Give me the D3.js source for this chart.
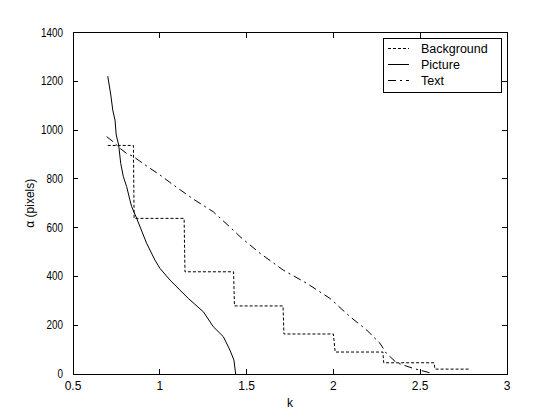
<!DOCTYPE html>
<html>
<head>
<meta charset="utf-8">
<script src="https://cdn.jsdelivr.net/npm/d3@7"></script>
<style>
body { margin: 0; background: #fff; }
text { font-family: "Liberation Sans", Arial, sans-serif; fill: #000; }
</style>
</head>
<body>
<script>
// values
var xTicks = [0.5, 1, 1.5, 2, 2.5, 3];
var yTicks = [0, 200, 400, 600, 800, 1000, 1200, 1400];

var bgK = [0.70, 0.848, 0.852, 1.14, 1.145, 1.425, 1.43, 1.71, 1.715, 2.0, 2.01, 2.285, 2.29, 2.58, 2.585, 2.78];
var bgA = [937, 937, 638, 638, 419, 419, 279, 279, 164, 164, 90, 90, 46, 46, 20, 20];

var picK = [0.700, 0.717, 0.729, 0.742, 0.749, 0.763, 0.775, 0.790, 0.809, 0.828, 0.838, 0.867, 0.924, 0.972, 1.001, 1.059, 1.116, 1.164, 1.251, 1.308, 1.366, 1.404, 1.427, 1.437];
var picA = [1221, 1148, 1082, 1041, 980, 939, 863, 809, 768, 713, 686, 638, 536, 467, 433, 385, 344, 310, 255, 194, 153, 98, 57, 0];

var txtK = [0.694, 0.732, 0.771, 0.809, 0.844, 0.882, 0.944, 1.001, 1.078, 1.193, 1.308, 1.423, 1.462, 1.577, 1.711, 1.846, 1.980, 2.096, 2.192, 2.268, 2.305, 2.364, 2.460, 2.566];
var txtA = [973, 952, 925, 904, 893, 874, 843, 816, 775, 717, 665, 590, 563, 495, 426, 372, 310, 235, 180, 126, 85, 46, 23, 3];

var names = ["Background", "Picture", "Text"];
var dashes = ["3,2", null, "8,4,2,4"];

var width = 560, height = 420;
var axL = 73, axR = 507, axT = 32.5, axB = 374;

var svg = d3.select("body").append("svg")
    .attr("width", width)
    .attr("height", height);

var x = d3.scaleLinear().domain([0.5, 3]).range([axL, axR]);
var y = d3.scaleLinear().domain([0, 1400]).range([axB, axT]);

var g = svg.append("g");

// box
g.append("rect")
  .attr("x", axL).attr("y", axT)
  .attr("width", axR - axL).attr("height", axB - axT)
  .style("fill", "none").style("stroke", "#000")
  .style("shape-rendering", "crispEdges");

// inward ticks on all four sides
var tick = 5;
xTicks.forEach(function(t) {
  g.append("line").attr("x1", x(t)).attr("x2", x(t)).attr("y1", axB).attr("y2", axB - tick);
  g.append("line").attr("x1", x(t)).attr("x2", x(t)).attr("y1", axT).attr("y2", axT + tick);
  g.append("text").attr("x", x(t)).attr("y", axB + 16)
    .attr("text-anchor", "middle").style("font-size", "12px")
    .text(t);
});
yTicks.forEach(function(t) {
  g.append("line").attr("x1", axL).attr("x2", axL + tick).attr("y1", y(t)).attr("y2", y(t));
  g.append("line").attr("x1", axR).attr("x2", axR - tick).attr("y1", y(t)).attr("y2", y(t));
  g.append("text").attr("x", axL - 10).attr("y", y(t) + 4)
    .attr("text-anchor", "end").style("font-size", "12px")
    .attr("textLength", String(t).length * 5.5).attr("lengthAdjust", "spacingAndGlyphs")
    .text(t);
});
g.selectAll("line").style("stroke", "#000").style("shape-rendering", "crispEdges");

// labels
svg.append("text").attr("x", (axL + axR) / 2).attr("y", 407)
  .attr("text-anchor", "middle").style("font-size", "12px").text("k");
svg.append("text")
  .attr("transform", "translate(34," + ((axT + axB) / 2) + ") rotate(-90)")
  .attr("text-anchor", "middle").style("font-size", "12px").text("α (pixels)");

// series
var series = [d3.zip(bgK, bgA), d3.zip(picK, picA), d3.zip(txtK, txtA)];
var line = d3.line().x(function(d) { return x(d[0]); }).y(function(d) { return y(d[1]); });

series.forEach(function(s, i) {
  svg.append("path")
    .attr("d", line(s))
    .style("fill", "none")
    .style("stroke", "#000")
    .style("stroke-width", 1)
    .style("stroke-dasharray", dashes[i]);
});

// legend
var lg = svg.append("g");
lg.append("rect").attr("x", 383).attr("y", 38).attr("width", 118).attr("height", 54)
  .style("fill", "#fff").style("stroke", "#000").style("shape-rendering", "crispEdges");
names.forEach(function(n, i) {
  var ly = 48 + i * 16.3;
  lg.append("line").attr("x1", 388).attr("x2", 409).attr("y1", ly).attr("y2", ly)
    .style("stroke", "#000").style("stroke-dasharray", dashes[i])
    .style("shape-rendering", "crispEdges");
  lg.append("text").attr("x", 421).attr("y", ly + 4.5)
    .style("font-size", "12.5px").text(n);
});
</script>
</body>
</html>
